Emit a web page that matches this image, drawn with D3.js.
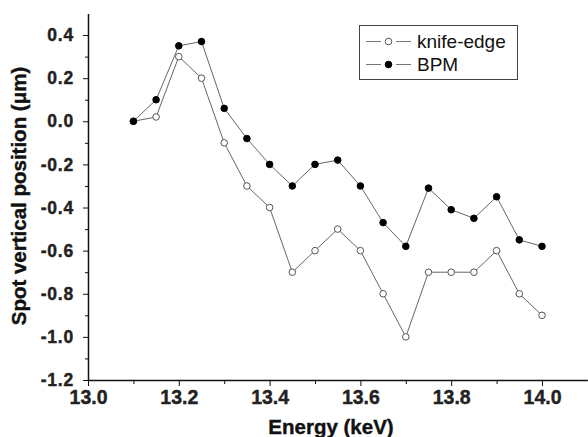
<!DOCTYPE html>
<html>
<head>
  <script src="https://cdnjs.cloudflare.com/ajax/libs/d3/7.8.5/d3.min.js"></script>
  <style>
    body { margin: 0; background: white; }
    svg { font-family: "Liberation Sans", Arial, sans-serif; }
    .axis path, .axis line { stroke: #111; }
    .axis text { font-weight: bold; font-size: 19.5px; fill: #222; stroke: #222; stroke-width: 0.4px; }
    .y.axis text { font-size: 17.5px; letter-spacing: 0.8px; }
    .title { font-weight: bold; font-size: 20.5px; fill: #111; stroke: #111; stroke-width: 0.4px; }
    .legend text { font-size: 19px; fill: #111; }
  </style>
</head>
<body>
  <div id="chart"></div>
  <script>
    // energies (keV)
    const energy = [13.1, 13.15, 13.2, 13.25, 13.3, 13.35, 13.4, 13.45, 13.5, 13.55,
                    13.6, 13.65, 13.7, 13.75, 13.8, 13.85, 13.9, 13.95, 14.0];
    const knifeEdge = [0.0, 0.02, 0.30, 0.20, -0.10, -0.30, -0.40, -0.70, -0.60, -0.50,
                       -0.60, -0.80, -1.00, -0.70, -0.70, -0.70, -0.60, -0.80, -0.90];
    const bpm = [0.0, 0.10, 0.35, 0.37, 0.06, -0.08, -0.20, -0.30, -0.20, -0.18,
                 -0.30, -0.47, -0.58, -0.31, -0.41, -0.45, -0.35, -0.55, -0.58];
    const xTicks = [13.0, 13.2, 13.4, 13.6, 13.8, 14.0];
    const yTicks = [-1.2, -1.0, -0.8, -0.6, -0.4, -0.2, 0.0, 0.2, 0.4];

    const width = 588, height = 437;
    const svg = d3.select("#chart").append("svg")
      .attr("width", width).attr("height", height);

    const x = d3.scaleLinear().domain([13.0, 14.1]).range([88, 587.4]);
    const y = d3.scaleLinear().domain([-1.2, 0.5]).range([380, 13.5]);

    // minor ticks
    const xMinor = d3.range(13.1, 14.0, 0.2);
    const yMinor = d3.range(-1.1, 0.5, 0.2);

    svg.append("g").attr("class", "axis")
      .attr("transform", "translate(0,380)")
      .call(d3.axisBottom(x).tickValues(xMinor).tickSize(4).tickSizeOuter(0).tickFormat(""))
      .call(g => g.select(".domain").remove());
    svg.append("g").attr("class", "axis")
      .attr("transform", "translate(88,0)")
      .call(d3.axisLeft(y).tickValues(yMinor).tickSize(3).tickSizeOuter(0).tickFormat(""))
      .call(g => g.select(".domain").remove());

    const xAxis = svg.append("g").attr("class", "x axis")
      .attr("transform", "translate(0,380)")
      .call(d3.axisBottom(x).tickValues(xTicks).tickSize(6).tickSizeOuter(0)
        .tickPadding(4).tickFormat(d => d.toFixed(1)));
    xAxis.select(".domain").attr("stroke-width", 1.5);

    const yAxis = svg.append("g").attr("class", "y axis")
      .attr("transform", "translate(88,0)")
      .call(d3.axisLeft(y).tickValues(yTicks).tickSize(5).tickSizeOuter(0)
        .tickPadding(9).tickFormat(d => d.toFixed(1)));
    yAxis.select(".domain").attr("stroke-width", 1.5);

    // titles
    svg.append("text").attr("class", "title")
      .attr("x", 331).attr("y", 434).attr("text-anchor", "middle")
      .text("Energy (keV)");
    svg.append("text").attr("class", "title")
      .attr("transform", "translate(26,196) rotate(-90)")
      .attr("text-anchor", "middle")
      .text("Spot vertical position (μm)");

    const line = d3.line().x(d => x(d[0])).y(d => y(d[1]));
    const series = [
      { name: "knife-edge", values: energy.map((e, i) => [e, knifeEdge[i]]), fill: "white", stroke: "#555" },
      { name: "BPM", values: energy.map((e, i) => [e, bpm[i]]), fill: "#000", stroke: "#000" }
    ];

    series.forEach(s => {
      svg.append("path").datum(s.values)
        .attr("d", line).attr("fill", "none")
        .attr("stroke", "#666").attr("stroke-width", 1);
    });
    series.forEach(s => {
      svg.selectAll(null).data(s.values).enter().append("circle")
        .attr("cx", d => x(d[0])).attr("cy", d => y(d[1]))
        .attr("r", 3.3)
        .attr("fill", s.fill).attr("stroke", s.stroke).attr("stroke-width", 1);
    });

    // legend
    const legend = svg.append("g").attr("class", "legend");
    legend.append("rect")
      .attr("x", 359.5).attr("y", 25.5).attr("width", 158).attr("height", 54)
      .attr("fill", "white").attr("stroke", "#444").attr("stroke-width", 1);
    series.forEach((s, i) => {
      const cy = 41.5 + i * 23;
      legend.append("line").attr("x1", 366).attr("x2", 381).attr("y1", cy).attr("y2", cy)
        .attr("stroke", "#777");
      legend.append("line").attr("x1", 396).attr("x2", 411).attr("y1", cy).attr("y2", cy)
        .attr("stroke", "#777");
      legend.append("circle").attr("cx", 388.5).attr("cy", cy).attr("r", 3.3)
        .attr("fill", s.fill).attr("stroke", s.stroke);
      legend.append("text").attr("x", 417).attr("y", cy + 6.5).text(s.name);
    });
  </script>
</body>
</html>
